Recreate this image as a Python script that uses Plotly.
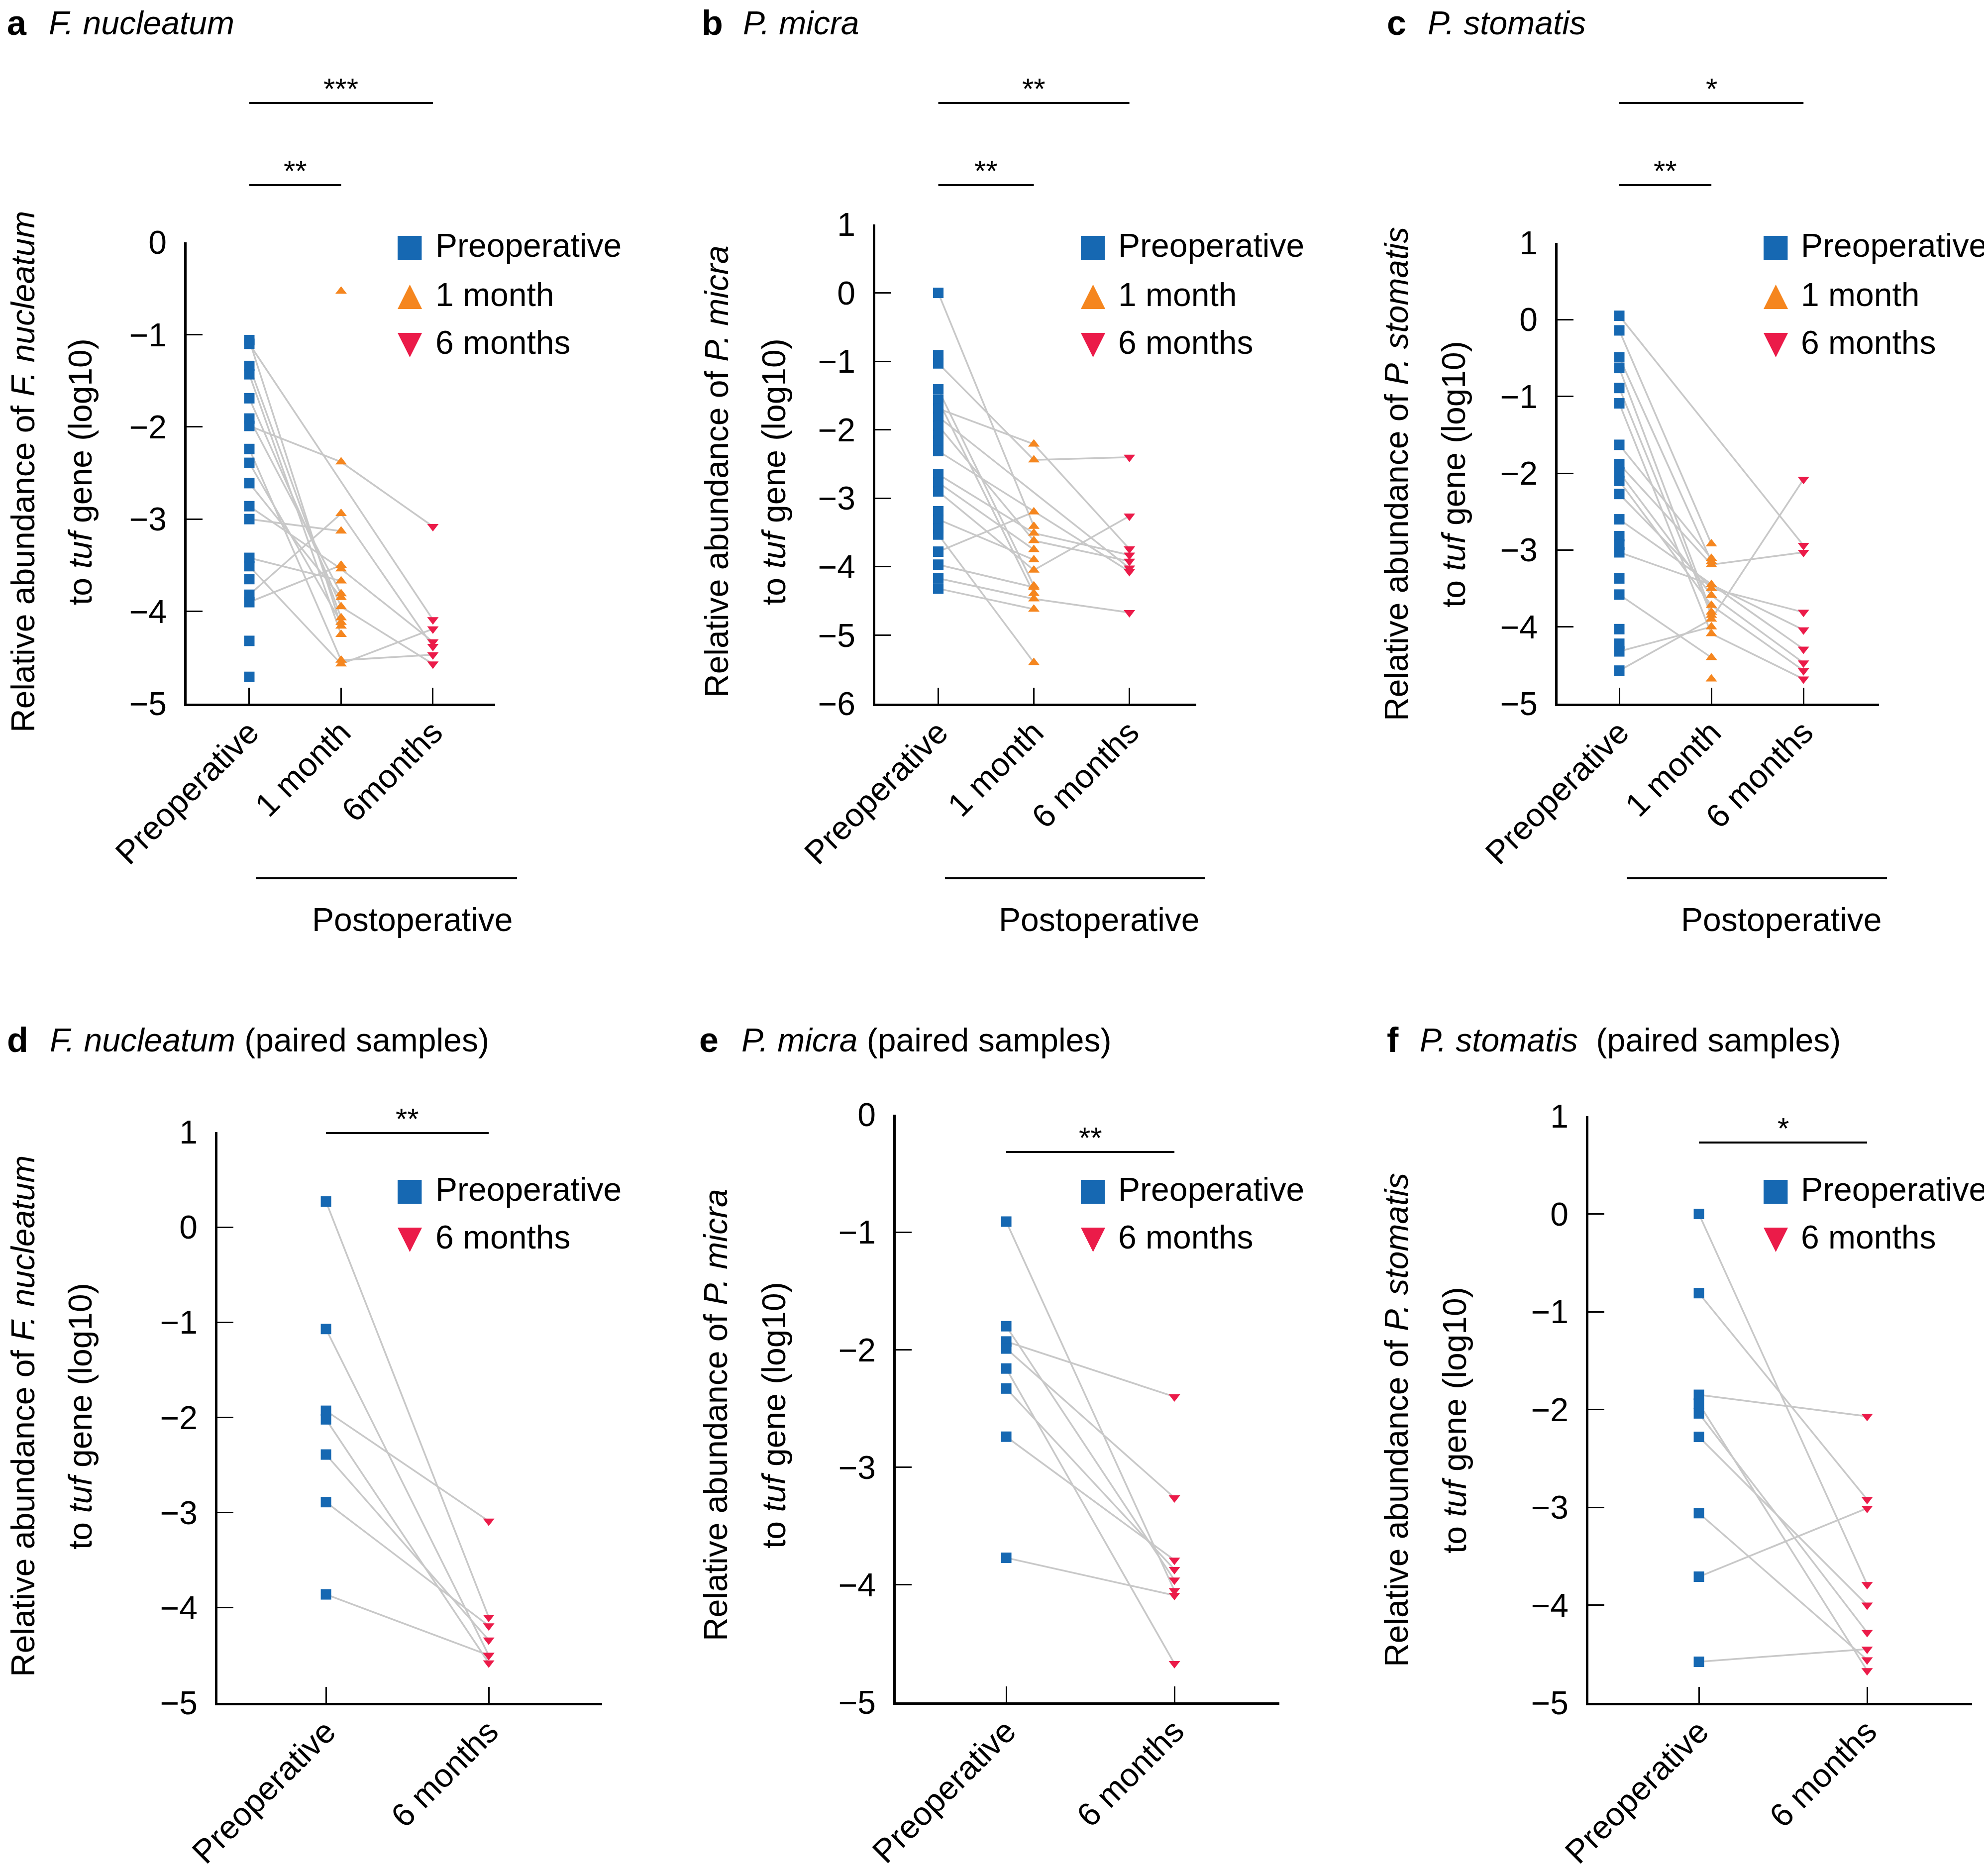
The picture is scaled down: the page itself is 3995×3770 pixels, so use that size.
import plotly.graph_objects as go

W, H = 3995, 3770
FONT = "Liberation Sans, Arial, Helvetica, sans-serif"
BLUE, ORANGE, RED, GREY = "#1668b2", "#f5861f", "#eb1b49", "#c8c8c8"

# time points used as category keys on the x axes
keys3 = ["pre", "m1", "m6"]
keys2 = ["pre", "m6"]
group_names = {"pre": "Preoperative", "m1": "1 month", "m6": "6 months"}

ticks_a = ["Preoperative", "1 month", "6months"]
ticks_bc = ["Preoperative", "1 month", "6 months"]
ticks_def = ["Preoperative", "6 months"]

# relative abundance (log10), one entry per patient, None = no sample
# a  F. nucleatum
a_pre = [-1.06, -1.10, -1.34, -1.43, -1.69, -1.91, -1.99, -2.24, -2.39, -2.61,
         -2.86, -3.00, -3.42, -3.51, -3.65, -3.82, -3.90, -4.32, -4.71, None]
a_m1 = [-4.16, None, -4.07, -4.25, -3.95, -3.81, -2.38, -4.53, -4.12, -3.85,
        -3.54, -3.13, -3.67, -4.57, None, -2.94, -3.50, None, None, -0.53]
a_m6 = [None, -4.09, None, None, -4.57, None, -3.08, -4.47, None, None,
        -4.33, None, None, -4.19, None, -4.38, None, None, None, None]

# b  P. micra
b_pre = [0.00, -0.91, -1.03, -1.41, -1.57, -1.69, -1.81, -1.94, -2.06, -2.16, -2.31,
         -2.65, -2.77, -2.90, -3.19, -3.31, -3.44, -3.53, -3.78, -3.97, -4.17, -4.32]
b_m1 = [-3.41, None, -2.44, -4.28, -4.39, -2.21, None, -3.62, None, None, None,
        -3.51, -3.75, -4.05, None, -3.90, None, -5.40, -3.20, -4.30, -4.47, -4.62]
b_m6 = [None, None, -2.40, None, None, -3.74, -4.02, -3.92, None, None, -4.07,
        -3.83, None, -3.26, None, None, None, None, None, None, -4.67, None]

# c  P. stomatis
c_pre = [0.05, -0.14, -0.49, -0.63, -0.89, -1.09, -1.63, -1.88, -1.99, -2.10, -2.27,
         -2.60, -2.82, -2.93, -3.03, -3.37, -3.58, -4.03, -4.22, -4.32, -4.57, None]
c_m1 = [None, -2.92, -3.15, -3.81, -3.85, -4.09, -3.11, -3.19, -3.59, -3.72, -3.50,
        None, None, None, -3.45, None, -4.40, None, None, -4.00, -3.90, -4.68]
c_m6 = [-2.94, None, None, None, None, -4.68, None, -3.03, -4.47, -4.57, -3.81,
        -4.29, None, None, -4.04, None, None, None, None, None, -2.08, None]

# d-f  paired samples
d_pre = [0.27, -1.07, -1.93, -2.02, -2.39, -2.89, -3.86]
d_m6 = [-4.10, -4.50, -3.09, -4.58, -4.34, -4.19, -4.50]

e_pre = [-0.91, -1.80, -1.93, -1.99, -2.16, -2.33, -2.74, -3.77]
e_m6 = [-4.05, -3.96, -2.40, -3.26, -4.67, -3.87, -3.79, -4.09]

f_pre = [0.00, -0.81, -1.85, -1.94, -2.04, -2.28, -3.06, -3.71, -4.58]
f_m6 = [-3.79, -2.92, -2.07, -4.67, -4.28, -4.00, -4.56, -3.01, -4.45]

style = {
    "pre": dict(symbol="square", color=BLUE, size=21),
    "m1": dict(symbol="triangle-up", color=ORANGE, size=20),
    "m6": dict(symbol="triangle-down", color=RED, size=20),
}
# big key glyphs used in the legends (glyph, font size)
key_glyph = {"pre": ("\u25a0", 100), "m1": ("\u25b2", 84), "m6": ("\u25bc", 84)}

TXT_SHIFT = 8  # annotations sit a little low when middle-anchored


def px_x(p):
    return p / W


def px_y(p):
    return 1 - p / H


panels = [
    dict(letter="a", title="<i>F. nucleatum</i>", species="F. nucleatum",
         keys=keys3, ticks=ticks_a, data=[a_pre, a_m1, a_m6],
         yrange=[-5, 0], xrange=[-0.683, 2.678], xdom=(367, 987), ydom=(479, 1406),
         letter_x=4, title_x=88, title_y=46, ytitle_x=(38, 153), ytitle_y=940,
         key_x=815, label_x=865, rows=[493, 592, 688],
         sig=[(0, 2, "***", 199), (0, 1, "**", 364)], post=(506, 1031, 821)),
    dict(letter="b", title="<i>P. micra</i>", species="P. micra",
         keys=keys3, ticks=ticks_bc, data=[b_pre, b_m1, b_m6],
         yrange=[-6, 1], xrange=[-0.659, 2.70], xdom=(1751, 2396), ydom=(443, 1406),
         letter_x=1400, title_x=1483, title_y=46, ytitle_x=(1432, 1547), ytitle_y=940,
         key_x=2188, label_x=2237, rows=[493, 592, 688],
         sig=[(0, 2, "**", 199), (0, 1, "**", 364)], post=(1891, 2413, 2201)),
    dict(letter="c", title="<i>P. stomatis</i>", species="P. stomatis",
         keys=keys3, ticks=ticks_bc, data=[c_pre, c_m1, c_m6],
         yrange=[-5, 1], xrange=[-0.67, 2.82], xdom=(3122, 3768), ydom=(480, 1406),
         letter_x=2777, title_x=2859, title_y=46, ytitle_x=(2798, 2913), ytitle_y=945,
         key_x=3560, label_x=3609, rows=[493, 592, 688],
         sig=[(0, 2, "*", 199), (0, 1, "**", 364)], post=(3261, 3784, 3572)),
    dict(letter="d", title="<i>F. nucleatum</i> (paired samples)", species="F. nucleatum",
         keys=keys2, ticks=ticks_def, data=[d_pre, d_m6],
         yrange=[-5, 1], xrange=[-0.667, 1.697], xdom=(429, 1202), ydom=(2267, 3414),
         letter_x=4, title_x=90, title_y=2090, ytitle_x=(38, 153), ytitle_y=2838,
         key_x=815, label_x=865, rows=[2390, 2486],
         sig=[(0, 1, "**", 2269)], post=None),
    dict(letter="e", title="<i>P. micra</i> (paired samples)", species="P. micra",
         keys=keys2, ticks=ticks_def, data=[e_pre, e_m6],
         yrange=[-5, 0], xrange=[-0.657, 1.624], xdom=(1792, 2563), ydom=(2232, 3413),
         letter_x=1395, title_x=1480, title_y=2090, ytitle_x=(1430, 1547), ytitle_y=2836,
         key_x=2188, label_x=2237, rows=[2390, 2486],
         sig=[(0, 1, "**", 2307)], post=None),
    dict(letter="f", title="<i>P. stomatis</i>\u00a0 (paired samples)", species="P. stomatis",
         keys=keys2, ticks=ticks_def, data=[f_pre, f_m6],
         yrange=[-5, 1], xrange=[-0.657, 1.624], xdom=(3184, 3955), ydom=(2235, 3414),
         letter_x=2777, title_x=2843, title_y=2090, ytitle_x=(2798, 2915), ytitle_y=2846,
         key_x=3560, label_x=3609, rows=[2390, 2486],
         sig=[(0, 1, "*", 2288)], post=None),
]

fig = go.Figure()
shapes, annotations = [], []
layout = {}
axis_font = dict(family=FONT, size=66, color="black")


def note(text, x, y, xanchor="center", size=66, color="black", **kw):
    return dict(text=text, xref=kw.pop("xref", "paper"), yref="paper", x=x, y=y,
                xanchor=xanchor, yanchor="middle", showarrow=False,
                font=dict(family=FONT, size=size, color=color), **kw)


for i, p in enumerate(panels, start=1):
    sfx = "" if i == 1 else str(i)
    xa, ya = "x" + sfx, "y" + sfx

    # grey lines joining each patient's samples
    xs, ys = [], []
    for vals in zip(*p["data"]):
        pts = [(k, v) for k, v in zip(p["keys"], vals) if v is not None]
        if len(pts) < 2:
            continue
        for k, v in pts:
            xs.append(k)
            ys.append(v)
        xs.append(None)
        ys.append(None)
    fig.add_trace(go.Scatter(x=xs, y=ys, mode="lines", line=dict(color=GREY, width=3.5),
                             xaxis=xa, yaxis=ya, showlegend=False, hoverinfo="skip"))

    for k, vals in zip(p["keys"], p["data"]):
        v = [y for y in vals if y is not None]
        fig.add_trace(go.Scatter(x=[k] * len(v), y=v, mode="markers", name=group_names[k],
                                 marker=dict(line_width=0, **style[k]),
                                 xaxis=xa, yaxis=ya, showlegend=False))

    layout["xaxis" + sfx] = dict(
        domain=[px_x(p["xdom"][0]), px_x(p["xdom"][1])], anchor=ya,
        type="category", categoryorder="array", categoryarray=p["keys"],
        range=p["xrange"], tickvals=p["keys"], ticktext=p["ticks"], tickangle=-45,
        showline=True, linecolor="black", linewidth=4.5, ticks="inside",
        ticklen=32, tickwidth=3, tickcolor="black", showgrid=False, zeroline=False,
        tickfont=axis_font, ticklabelstandoff=-12)
    layout["yaxis" + sfx] = dict(
        domain=[px_y(p["ydom"][1]), px_y(p["ydom"][0])], anchor=xa,
        range=p["yrange"], tick0=0, dtick=1,
        showline=True, linecolor="black", linewidth=4.5, ticks="inside",
        ticklen=32, tickwidth=3, tickcolor="black", showgrid=False, zeroline=False,
        tickfont=axis_font, ticklabelstandoff=22)

    # legend: key glyph + group name per time point
    for k, ry in zip(p["keys"], p["rows"]):
        glyph, gsize = key_glyph[k]
        annotations.append(note(glyph, px_x(p["key_x"]), px_y(ry - TXT_SHIFT),
                                size=gsize, color=style[k]["color"]))
        annotations.append(note(group_names[k], px_x(p["label_x"]), px_y(ry - TXT_SHIFT),
                                xanchor="left"))

    # panel letter and title
    annotations.append(note("<b>%s</b>" % p["letter"], px_x(p["letter_x"]),
                            px_y(p["title_y"] - TXT_SHIFT), xanchor="left", size=70))
    annotations.append(note(p["title"], px_x(p["title_x"]),
                            px_y(p["title_y"] - TXT_SHIFT), xanchor="left"))

    # y-axis title, two lines
    for cx, txt in zip(p["ytitle_x"], ["Relative abundance of <i>%s</i>" % p["species"],
                                       "to <i>tuf</i> gene (log10)"]):
        annotations.append(note(txt, px_x(cx), px_y(p["ytitle_y"]), textangle=-90))

    # significance bars
    for c0, c1, stars, yb in p["sig"]:
        shapes.append(dict(type="line", xref=xa, yref="paper", x0=c0, x1=c1,
                           y0=px_y(yb), y1=px_y(yb), line=dict(color="black", width=4)))
        annotations.append(note(stars, (c0 + c1) / 2, px_y(yb - 21 - TXT_SHIFT),
                                size=60, xref=xa))

    # postoperative bracket
    if p["post"]:
        x0, x1, xc = p["post"]
        shapes.append(dict(type="line", xref="paper", yref="paper", x0=px_x(x0), x1=px_x(x1),
                           y0=px_y(1757), y1=px_y(1757), line=dict(color="black", width=4)))
        annotations.append(note("Postoperative", px_x(xc), px_y(1848 - TXT_SHIFT)))

fig.update_layout(
    width=W, height=H,
    margin=dict(l=0, r=0, t=0, b=0, autoexpand=False),
    paper_bgcolor="white", plot_bgcolor="white",
    font=dict(family=FONT, color="black"),
    showlegend=False,
    shapes=shapes, annotations=annotations,
    **layout,
)

fig.write_html("out.html")
